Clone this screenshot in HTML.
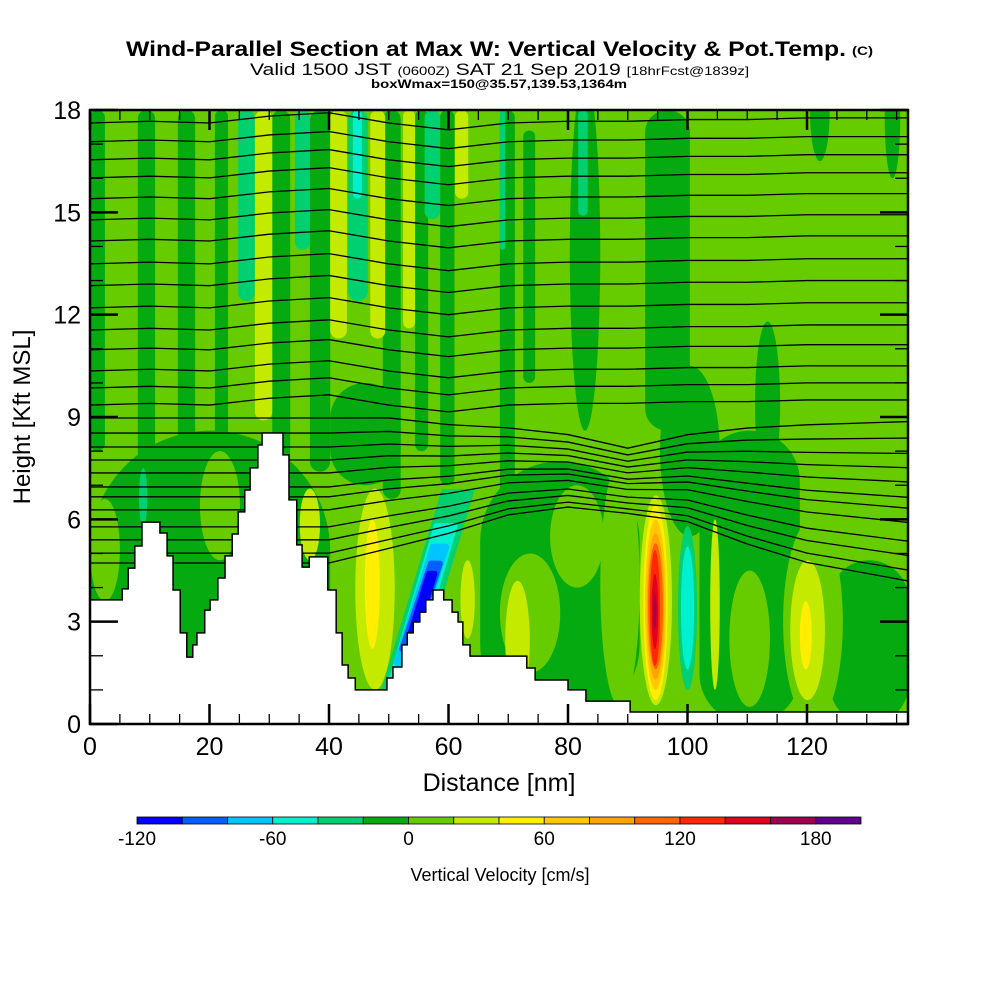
<!DOCTYPE html>
<html><head><meta charset="utf-8"><title>Wind-Parallel Section</title>
<style>html,body{margin:0;padding:0;background:#fff}svg{display:block;font-family:"Liberation Sans",sans-serif}</style>
</head><body>
<svg id="chart" width="1000" height="1000" viewBox="0 0 1000 1000" xmlns="http://www.w3.org/2000/svg">
<g>
<text x="126" y="56" font-size="21" font-weight="bold" textLength="720" lengthAdjust="spacingAndGlyphs">Wind-Parallel Section at Max W: Vertical Velocity &amp; Pot.Temp.</text>
<text x="852" y="55" font-size="12" font-weight="bold" textLength="21" lengthAdjust="spacingAndGlyphs">(C)</text>
<text x="250" y="75" font-size="17" textLength="499" lengthAdjust="spacingAndGlyphs">Valid 1500 JST <tspan font-size="12">(0600Z)</tspan> SAT 21 Sep 2019 <tspan font-size="12">[18hrFcst@1839z]</tspan></text>
<text x="371" y="88" font-size="12" font-weight="bold" textLength="256" lengthAdjust="spacingAndGlyphs">boxWmax=150@35.57,139.53,1364m</text>
</g>
<defs><clipPath id="plotclip"><rect x="90" y="110" width="818" height="614"/></clipPath></defs>
<g id="plot" clip-path="url(#plotclip)"></g>
<g id="axes"></g>
<text x="30" y="417" font-size="24" text-anchor="middle" transform="rotate(-90 30 417)">Height [Kft MSL]</text>
<text x="499" y="791" font-size="25" text-anchor="middle">Distance [nm]</text>
<g id="cbar"></g>
<text x="500" y="881" font-size="18" text-anchor="middle">Vertical Velocity [cm/s]</text>
</svg>
<script>
// ---- data ----
const binEdges = [-120,-100,-80,-60,-40,-20,0,20,40,60,80,100,120,140,160,180,200];
const binColors = ["#0000ff","#0060ff","#00c4ff","#00f0d0","#00d070","#05aa10","#66cc00","#c4ea00","#ffee00","#ffc800","#ffa400","#ff6600","#ff2800","#e00020","#a00050","#600090"];
const cbarLabels = [-120,-60,0,60,120,180];
const xTicks = [0,20,40,60,80,100,120];
const yTicks = [0,3,6,9,12,15,18];
// terrain: segment boundaries (nm) and height (kft) for each segment
const terrNm = [0,5.4,6.4,7.5,8.7,11.7,12.9,13.9,15.1,16.2,17.2,17.9,19.2,20.1,21.4,22.6,23.8,24.8,25.9,26.8,28.1,28.8,30.1,32.3,33.3,34.6,35.5,36.7,39.8,41.2,42.2,43.2,44.4,49.7,50.7,52.2,53.1,54.1,55.2,56.2,57.4,59.2,60.6,61.6,62.4,63.6,73.1,74.5,80,83,90.4,137];
const terrK = [3.64,3.96,4.57,5.22,5.92,5.6,4.93,3.93,2.67,1.96,2.32,2.67,3.34,3.64,4.28,4.93,5.57,6.22,6.86,7.51,8.18,8.53,8.53,7.89,6.57,5.25,4.6,4.9,3.93,2.67,1.73,1.35,1.0,1.35,1.67,2.32,2.67,2.99,3.28,3.64,3.93,3.64,3.28,2.99,2.32,1.99,1.64,1.29,1.0,0.67,0.35];
// vertical velocity cells: [x0 nm, x1 nm, k0 kft, k1 kft, w cm/s, shape]
const wCells = [
 [0,2.5,8,18,-10,'r'],[8,10.9,3.6,18,-10,'r'],[14.7,17.6,6.6,18,-10,'r'],[20.9,23.1,8,18,-10,'r'],
 [30.5,33.5,7.4,18,-10,'r'],[36.8,40.2,7.4,18,-10,'r'],[49,52,6.6,18,-10,'r'],[54.4,56.6,8,18,-10,'r'],
 [58.6,61,7,18,-10,'r'],[68.6,71.1,3.6,18,-10,'r'],[72.5,74.5,10,17.4,-10,'r'],[80.3,85.4,8.6,19,-10,'e'],
 [92.9,100.4,8.6,18,-10,'r'],[95.4,105.4,5.5,10.5,-10,'e'],[111.3,115.5,7,11.8,-10,'e'],
 [120.5,123.8,16.5,19.5,-10,'e'],[133,135.6,16,19.5,-10,'e'],
 [0,40.2,0,8.6,-10,'r'],[65.3,92,0,7.7,-10,'r'],[102,118.8,0,8.6,-10,'r'],[123.8,137,0,4.8,-10,'r'],[40.2,52,7,10,-10,'r'],
 [0,5,3.6,6.6,10,'e'],[18.4,25.1,4.8,8,10,'e'],[68.6,78.7,1.5,5,10,'e'],[85.4,92,0.5,7.7,10,'e'],
 [107,113.8,0.5,4.5,10,'e'],[116,126,0,6,10,'e'],[128.9,137,4.8,8.9,10,'e'],[77,86,4,7,10,'e'],
 [24.8,27.6,12.4,18,-30,'r'],[34.3,36.8,13.9,18,-30,'r'],[43.2,46.5,12.4,18,-30,'r'],[56,58.6,14.8,18,-30,'r'],
 [68.6,69.5,13.9,18,-30,'r'],[81.7,83.3,14.9,18,-30,'r'],[8.2,9.6,5.8,7.5,-30,'e'],[98.4,101.6,1,5.8,-30,'e'],
 [44,45.5,15.4,18,-50,'r'],[98.9,101.1,1.6,5.2,-50,'e'],
 [27.6,30.5,8.9,18,30,'r'],[40.2,43,11.3,18,30,'r'],[46.9,49.4,11.3,18,30,'r'],[52.4,54.4,11.6,18,30,'r'],
 [61.1,63.3,15.4,18,30,'r'],[44.4,51,1,6.9,30,'e'],[35.1,38.5,4.8,6.9,30,'e'],[69.5,73.6,0.7,4.2,30,'e'],
 [103.8,105.4,1,6,30,'e'],[117.2,123,0.7,4.8,30,'e'],[62,64.4,2.5,4.8,30,'e'],[92,97.4,0.55,6.7,30,'e'],
 [46,48.5,2.2,6,50,'e'],[118.8,120.8,1.6,3.6,50,'e'],[92.6,96.7,0.7,6.4,50,'e'],
 [92.9,96.4,1,6.0,70,'e'],[93.2,96.1,1.3,5.6,90,'e'],[93.4,95.9,1.6,5.3,110,'e'],[93.7,95.4,1.7,5.1,130,'e'],
 [94,95.1,2.2,4.4,150,'e'],[94.3,94.8,2.8,3.8,170,'e']
];
// downdraft bands: [x start nm, x end nm, k start, k end, w, width nm]
const wBands = [[61.5,51.5,6.8,1.0,-30,4.5],[59.5,52,5.8,1.3,-50,3],[58.5,52.5,5.2,1.8,-70,2.2],[57.8,53,4.7,2.2,-90,1.5],[57.2,54,4.4,2.6,-110,0.9]];
// potential temperature contours: left-edge heights (kft)
const thetaLevels = [17.62,17.07,16.54,16.01,15.4,14.78,14.16,13.49,12.85,12.2,11.55,10.97,10.35,9.85,9.35,8.97,8.53,8.12,7.74,7.36,6.95,6.66,6.28,5.78,5.4,5.01,4.72];
const knotNm = [0,10,20,30,40,50,60,70,80,90,100,110,120,137];
const knotLift = [0,0.05,0,0.2,0.3,0,-0.2,0,0.05,0.05,0.1,0.1,0.15,0.15];
const knotLowLift = [0,0,0,0,0,0,-0.2,-0.3,-0.5,-0.9,-0.5,-0.3,-0.2,-0.1];
const knotSqueeze = [1,1,1,1,1,0.9,0.75,0.6,0.5,0.45,0.6,0.8,0.95,1.1];
// ---- scales ----
const X = nm => 90 + nm*5.975;
const Y = k => 724 - k*34.11;
const NS = "http://www.w3.org/2000/svg";
const colorOf = w => { for (let i=0;i<binColors.length;i++) if (w>=binEdges[i] && w<binEdges[i+1]) return binColors[i]; return binColors[binColors.length-1]; };
const plot = document.getElementById('plot');
function mk(tag, attrs, parent){ const e=document.createElementNS(NS,tag); for (const k in attrs) e.setAttribute(k,attrs[k]); parent.appendChild(e); return e; }
const bg = mk('rect',{x:90,y:110,width:818,height:614,fill:colorOf(10)},plot);


wCells.forEach(c=>{
  let el;
  const x0=X(c[0]),x1=X(c[1]),y0=Y(c[3]),y1=Y(c[2]);
  if (c[5]==='e') el = mk('ellipse',{cx:(x0+x1)/2,cy:(y0+y1)/2,rx:(x1-x0)/2,ry:(y1-y0)/2,fill:colorOf(c[4])},plot);
  else el = mk('rect',{x:x0,y:y0,width:x1-x0,height:y1-y0,rx:(x1-x0)/2,fill:colorOf(c[4])},plot);
  
  
});
wBands.forEach(b=>{
  const h=b[5]/2;
  const p=[[X(b[0]-h),Y(b[2])],[X(b[0]+h),Y(b[2])],[X(b[1]+h),Y(b[3])],[X(b[1]-h),Y(b[3])]];
  const el = mk('polygon',{points:p.map(q=>q.join(',')).join(' '),fill:colorOf(b[4]),'stroke':colorOf(b[4]),'stroke-width':6,'stroke-linejoin':'round'},plot);
  
  
});
thetaLevels.forEach(L=>{
  const pts = knotNm.map((nm,i)=>{ let k = L<9 ? 9-(9-L)*knotSqueeze[i]+knotLowLift[i] : L+knotLift[i]; return X(nm)+','+Y(k); });
  const el = mk('polyline',{points:pts.join(' '),fill:'none',stroke:'#000','stroke-width':1.3},plot);
  
  
});
// terrain
let tp = [X(0)+','+Y(0)];
for (let i=0;i<terrK.length;i++){ tp.push(X(terrNm[i])+','+Y(terrK[i])); tp.push(X(terrNm[i+1])+','+Y(terrK[i])); }
tp.push(X(137)+','+Y(0));
const terr = mk('polygon',{points:tp.join(' '),fill:'#fff',stroke:'#000','stroke-width':1.5},plot);


// axes
const ax = document.getElementById('axes');
const fr = mk('rect',{x:90,y:110,width:818,height:614,fill:'none',stroke:'#000','stroke-width':2.5},ax);


for (let nm=0; nm<=135; nm+=5){
  const major = nm%20===0, len = major?20:10, x=X(nm);
  mk('line',{x1:x,y1:724,x2:x,y2:724-len,stroke:'#000','stroke-width':major?2.5:1.3},ax);
  mk('line',{x1:x,y1:110,x2:x,y2:110+len,stroke:'#000','stroke-width':major?2.5:1.3},ax);
}
for (let k=0;k<=18;k++){
  const major = k%3===0, len = major?28:13, y=Y(k);
  mk('line',{x1:90,y1:y,x2:90+len,y2:y,stroke:'#000','stroke-width':major?2.5:1.3},ax);
  mk('line',{x1:908,y1:y,x2:908-len,y2:y,stroke:'#000','stroke-width':major?2.5:1.3},ax);
}
xTicks.forEach(v=>{ const t=mk('text',{x:X(v),y:755,'font-size':25,'text-anchor':'middle'},ax); t.textContent=v;
  
   });
yTicks.forEach(v=>{ const t=mk('text',{x:81,y:Y(v)+9,'font-size':25,'text-anchor':'end'},ax); t.textContent=v;
  
   });
// colorbar
const cb = document.getElementById('cbar');
const cw = (861-137)/binColors.length;
binColors.forEach((c,i)=>{ const r=mk('rect',{x:137+i*cw,y:817,width:cw,height:7,fill:c,stroke:'#000','stroke-width':0.8},cb);
  
   });
cbarLabels.forEach(v=>{ const i=binEdges.indexOf(v); const t=mk('text',{x:137+i*cw,y:845,'font-size':19,'text-anchor':'middle'},cb); t.textContent=v;
  
   });
</script>
</body></html>
